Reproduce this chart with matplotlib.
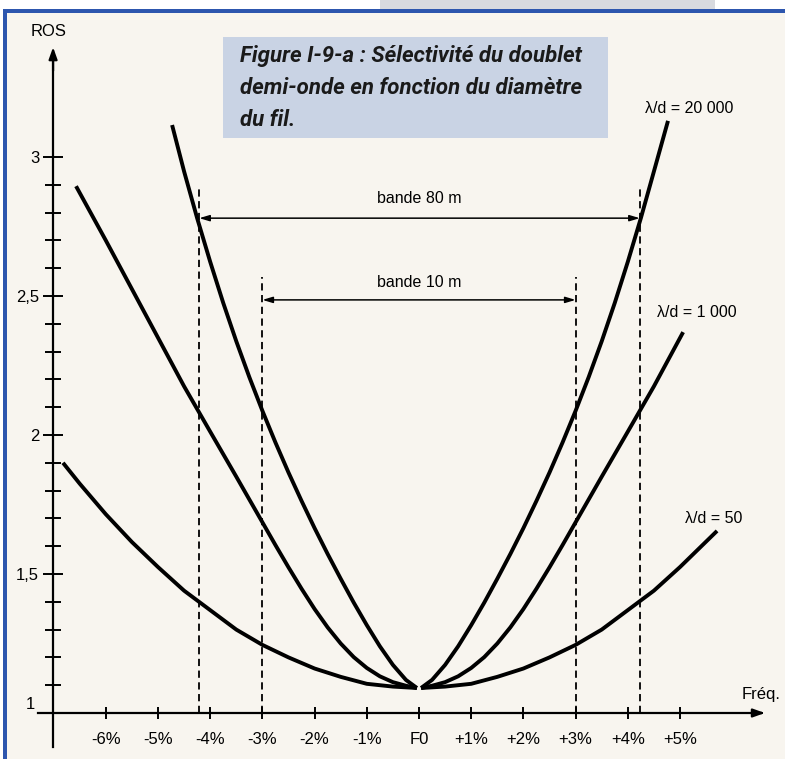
import matplotlib.pyplot as plt
from matplotlib.patches import Rectangle

# ---------------------------------------------------------------
# data (x in %, y = ROS)
# ---------------------------------------------------------------
# lambda/d = 20 000
x_20k_left = [-4.73, -4.5, -4.25, -4.0, -3.75, -3.5, -3.25, -3.0, -2.75, -2.5, -2.25, -2.0, -1.75,
              -1.5, -1.25, -1.0, -0.75, -0.5, -0.25, -0.04]
y_20k_left = [3.115, 2.948, 2.780, 2.623, 2.475, 2.337, 2.208, 2.087, 1.973, 1.865, 1.763, 1.665, 1.572,
              1.483, 1.397, 1.316, 1.240, 1.173, 1.119, 1.090]
x_20k_right = [0.04, 0.25, 0.5, 0.75, 1.0, 1.25, 1.5, 1.75, 2.0, 2.25, 2.5, 2.75, 3.0, 3.25, 3.5,
               3.75, 4.0, 4.25, 4.5, 4.77]
y_20k_right = [1.090, 1.119, 1.173, 1.240, 1.316, 1.397, 1.483, 1.572, 1.665, 1.763, 1.865, 1.973, 2.087,
               2.208, 2.337, 2.475, 2.623, 2.780, 2.948, 3.130]

# lambda/d = 1 000
x_1k_left = [-6.57, -6.0, -5.5, -5.0, -4.5, -4.0, -3.5, -3.0, -2.75, -2.5, -2.25, -2.0, -1.75, -1.5,
             -1.25, -1.0, -0.75, -0.5, -0.25, -0.04]
y_1k_left = [2.895, 2.700, 2.525, 2.350, 2.175, 2.012, 1.850, 1.686, 1.604, 1.524, 1.447, 1.374, 1.308,
             1.250, 1.201, 1.162, 1.132, 1.111, 1.098, 1.090]
x_1k_right = [0.04, 0.25, 0.5, 0.75, 1.0, 1.25, 1.5, 1.75, 2.0, 2.25, 2.5, 2.75, 3.0, 3.5, 4.0, 4.5, 5.06]
y_1k_right = [1.090, 1.098, 1.111, 1.132, 1.162, 1.201, 1.250, 1.308, 1.374, 1.447, 1.524, 1.604, 1.686,
              1.850, 2.012, 2.175, 2.370]

# lambda/d = 50
x_50_left = [-6.82, -6.5, -6.0, -5.5, -5.0, -4.5, -4.0, -3.5, -3.0, -2.5, -2.0, -1.5, -1.0, -0.5, -0.04]
y_50_left = [1.900, 1.825, 1.715, 1.615, 1.525, 1.440, 1.370, 1.300, 1.245, 1.200, 1.160, 1.130, 1.105,
             1.095, 1.090]
x_50_right = [0.04, 0.5, 1.0, 1.5, 2.0, 2.5, 3.0, 3.5, 4.0, 4.5, 5.0, 5.71]
y_50_right = [1.090, 1.095, 1.105, 1.130, 1.160, 1.200, 1.245, 1.300, 1.370, 1.440, 1.525, 1.655]

curve_labels = ['\u03bb/d = 20 000', '\u03bb/d = 1 000', '\u03bb/d = 50']

# band limits (dashed lines) and their top
band_80 = [-4.21, 4.23]
band_80_top = 2.90
band_10 = [-3.0, 3.0]
band_10_top = 2.57

x_ticks = [-6, -5, -4, -3, -2, -1, 0, 1, 2, 3, 4, 5]
x_ticklabels = ['-6%', '-5%', '-4%', '-3%', '-2%', '-1%', 'F0', '+1%', '+2%', '+3%', '+4%', '+5%']
y_ticks = [1.5, 2, 2.5, 3]
y_ticklabels = ['1,5', '2', '2,5', '3']

title_lines = ['Figure I-9-a : S\u00e9lectivit\u00e9 du doublet',
               'demi-onde en fonction du diam\u00e8tre',
               'du fil.']

# ---------------------------------------------------------------
BG = '#f8f5ef'
FONT = 'Liberation Sans'

fig = plt.figure(figsize=(7.85, 7.59), dpi=100, facecolor=BG)
ax = fig.add_axes([0, 0, 1, 1])
ax.set_facecolor('none')

# pixel mapping: x_px = 419 + 52.2*x ; y_px(top) = 713 - 278*(y-1)
ax.set_xlim(-419 / 52.2, (785 - 419) / 52.2)
ax.set_ylim(1 - (759 - 713) / 278, 1 + 713 / 278)

# frame decorations (page border)
fig.patches.append(Rectangle((0, 0), 1, 1, transform=fig.transFigure, facecolor='white',
                             edgecolor='none', zorder=-10))
fig.patches.append(Rectangle((3 / 785, 0), 1, 749 / 759, transform=fig.transFigure,
                             facecolor=BG, edgecolor='none', zorder=-9))
fig.patches.append(Rectangle((380 / 785, 749 / 759), 335 / 785, 10 / 759, transform=fig.transFigure,
                             facecolor='#d8dadf', edgecolor='none', zorder=-9))
fig.patches.append(Rectangle((3 / 785, 0), 4 / 785, 749 / 759, transform=fig.transFigure,
                             facecolor='#2d56ae', edgecolor='none', zorder=-8))
fig.patches.append(Rectangle((3 / 785, 746 / 759), 782 / 785, 4 / 759, transform=fig.transFigure,
                             facecolor='#2d56ae', edgecolor='none', zorder=-8))

# axes as arrows
y_axis_x = -7.01
for s in ['top', 'right']:
    ax.spines[s].set_visible(False)
ax.spines['left'].set_position(('data', y_axis_x))
ax.spines['bottom'].set_position(('data', 1.0))
ax.spines['left'].set_bounds(0.878, 3.35)
ax.spines['bottom'].set_bounds(-7.30, 6.55)
for s in ['left', 'bottom']:
    ax.spines[s].set_linewidth(1.6)

ax.annotate('', xy=(y_axis_x, 3.405), xytext=(y_axis_x, 3.30),
            arrowprops=dict(arrowstyle='-|>,head_length=0.7,head_width=0.25', color='black', lw=1.6))
ax.annotate('', xy=(6.68, 1.0), xytext=(6.45, 1.0),
            arrowprops=dict(arrowstyle='-|>,head_length=0.7,head_width=0.25', color='black', lw=1.6))

ax.set_xticks(x_ticks)
ax.set_xticklabels(x_ticklabels, fontsize=12, family=FONT)
ax.set_yticks(y_ticks)
ax.set_yticklabels(y_ticklabels, fontsize=12, family=FONT)
ax.set_yticks([1.1 + 0.1 * i for i in range(20) if round(1.1 + 0.1 * i, 1) not in y_ticks], minor=True)
ax.tick_params(axis='x', direction='inout', length=9, width=1.4, pad=9)
ax.tick_params(axis='y', which='major', direction='inout', length=14, width=1.4, pad=3)
ax.tick_params(axis='y', which='minor', direction='inout', length=11, width=1.4)

ax.text(-7.35, 1.03, '1', fontsize=12, family=FONT, ha='right', va='center')
ax.text(-7.09, 3.45, 'ROS', fontsize=12, family=FONT, ha='center', va='center')
ax.text(6.55, 1.065, 'Fr\u00e9q.', fontsize=12, family=FONT, ha='center', va='center')

# curves
for xs, ys in [(x_20k_left, y_20k_left), (x_20k_right, y_20k_right),
               (x_1k_left, y_1k_left), (x_1k_right, y_1k_right),
               (x_50_left, y_50_left), (x_50_right, y_50_right)]:
    ax.plot(xs, ys, color='black', lw=2.8, solid_capstyle='butt', solid_joinstyle='round')

ax.text(x_20k_right[-1] + 0.4, y_20k_right[-1] + 0.045, curve_labels[0], fontsize=11.5, family=FONT,
        ha='center', va='center')
ax.text(x_1k_right[-1] + 0.27, y_1k_right[-1] + 0.07, curve_labels[1], fontsize=11.5, family=FONT,
        ha='center', va='center')
ax.text(x_50_right[-1] - 0.07, y_50_right[-1] + 0.045, curve_labels[2], fontsize=11.5, family=FONT,
        ha='center', va='center')

# bands
for xb in band_80:
    ax.plot([xb, xb], [1.0, band_80_top], color='black', lw=1.3, ls=(0, (4, 2.5)))
for xb in band_10:
    ax.plot([xb, xb], [1.0, band_10_top], color='black', lw=1.3, ls=(0, (4, 2.5)))

arrow_kw = dict(arrowstyle='<|-|>,head_length=0.6,head_width=0.18', color='black', lw=1.1,
                shrinkA=0, shrinkB=0)
ax.annotate('', xy=(band_80[0], 2.78), xytext=(band_80[1], 2.78), arrowprops=arrow_kw)
ax.annotate('', xy=(band_10[0], 2.486), xytext=(band_10[1], 2.486), arrowprops=arrow_kw)
ax.text(0, 2.849, 'bande 80 m', fontsize=11.5, family=FONT, ha='center', va='center')
ax.text(0, 2.547, 'bande 10 m', fontsize=11.5, family=FONT, ha='center', va='center')

# title box
fig.patches.append(Rectangle((223 / 785, 1 - 138 / 759), 385 / 785, 101 / 759, transform=fig.transFigure,
                             facecolor='#c9d3e4', edgecolor='none', zorder=-5))
for i, line in enumerate(title_lines):
    fig.text(240 / 785, 1 - (56 + 32 * i) / 759, line, fontsize=16,
             family=['Roboto', 'DejaVu Sans'], style='italic', weight='bold',
             color='#1a1a1a', ha='left', va='center')

plt.savefig('out.png', dpi=100, facecolor=fig.get_facecolor())
